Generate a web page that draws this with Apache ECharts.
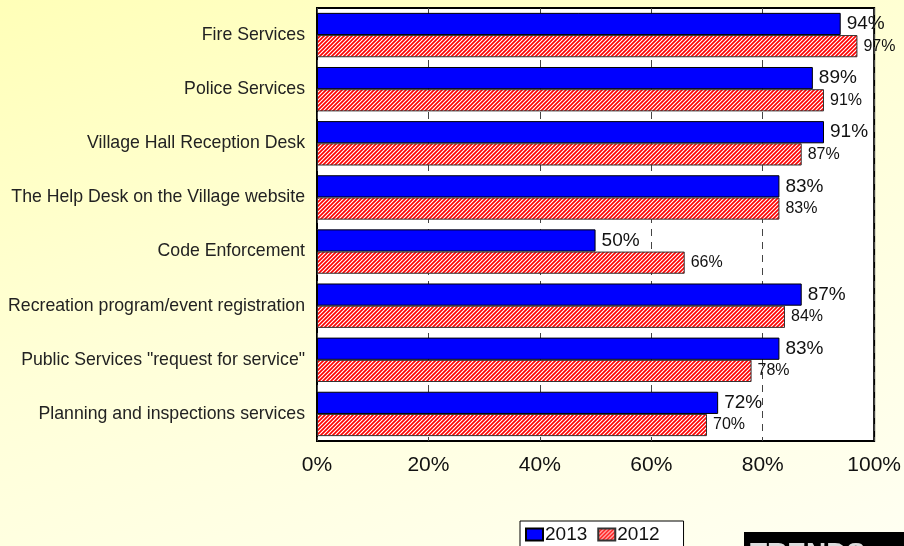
<!DOCTYPE html>
<html><head><meta charset="utf-8">
<script src="https://cdn.jsdelivr.net/npm/echarts@6/dist/echarts.min.js"></script>
<style>html,body{margin:0;padding:0;}#c{width:904px;height:546px;background:linear-gradient(160deg,#ffffb8 0%,#ffffd8 45%,#fffff2 100%);}</style>
</head><body><div id="c"></div>
<script>
var categories = ["Fire Services","Police Services","Village Hall Reception Desk","The Help Desk on the Village website","Code Enforcement","Recreation program/event registration","Public Services \"request for service\"","Planning and inspections services"];
var values2013 = [94,89,91,83,50,87,83,72];
var values2012 = [97,91,87,83,66,84,78,70];
var xTicks = ["0%","20%","40%","60%","80%","100%"];

function hatch(){
  var c = document.createElement('canvas'); c.width = 4; c.height = 4;
  var g = c.getContext('2d');
  g.fillStyle = '#ffffff'; g.fillRect(0,0,4,4);
  g.strokeStyle = '#ff0000'; g.lineWidth = 1.7;
  g.beginPath();
  g.moveTo(-1,5); g.lineTo(5,-1);
  g.moveTo(-1,1); g.lineTo(1,-1);
  g.moveTo(3,5); g.lineTo(5,3);
  g.stroke();
  return c;
}
var pat = {image: hatch(), repeat: 'repeat'};
var chart = echarts.init(document.getElementById('c'), null, {renderer:'canvas'});
chart.setOption({
  animation:false,
  textStyle:{fontFamily:'Liberation Sans, Arial, sans-serif'},
  grid:{left:317,right:29,top:8,bottom:105,show:true,backgroundColor:'#ffffff',borderColor:'#000',borderWidth:2},
  legend:{left:520,top:521,itemGap:10,itemWidth:17,itemHeight:12,icon:'rect',padding:[4,24,4,5],borderColor:'#000',borderWidth:1,backgroundColor:'#fff',borderRadius:0,
    textStyle:{fontSize:19,color:'#111',padding:[0,0,0,-3]},data:['2013','2012']},
  xAxis:{type:'value',min:0,max:100,interval:20,
    axisLabel:{formatter:function(v){return xTicks[v/20];},fontSize:21,color:'#111',margin:14},
    axisLine:{show:false},axisTick:{show:false},
    splitLine:{show:true,lineStyle:{color:'#444',type:[7,6],width:1}}},
  yAxis:{type:'category',data:categories,inverse:true,
    axisLabel:{fontSize:17.7,color:'#222',margin:12},
    axisLine:{show:false},axisTick:{show:false}},
  series:[
    {name:'2013',type:'bar',data:values2013,barGap:'0%',barCategoryGap:'18%',
     itemStyle:{color:'#0000ff',borderColor:'#000',borderWidth:1},
     label:{show:true,position:'right',distance:6,formatter:'{c}%',fontSize:19,color:'#111'}},
    {name:'2012',type:'bar',data:values2012,barGap:'0%',barCategoryGap:'18%',
     itemStyle:{color:pat,borderColor:'#333',borderWidth:1},
     label:{show:true,position:'right',distance:6,formatter:'{c}%',fontSize:16,color:'#111'}}
  ],
  graphic:[
    {type:'rect',left:744,top:532,shape:{width:160,height:20},style:{fill:'#000'}},
    {type:'text',left:750,top:540,style:{text:'TRENDS',fill:'#ddd',font:'bold 28px Liberation Sans, Arial, sans-serif'}}
  ]
});
</script></body></html>
